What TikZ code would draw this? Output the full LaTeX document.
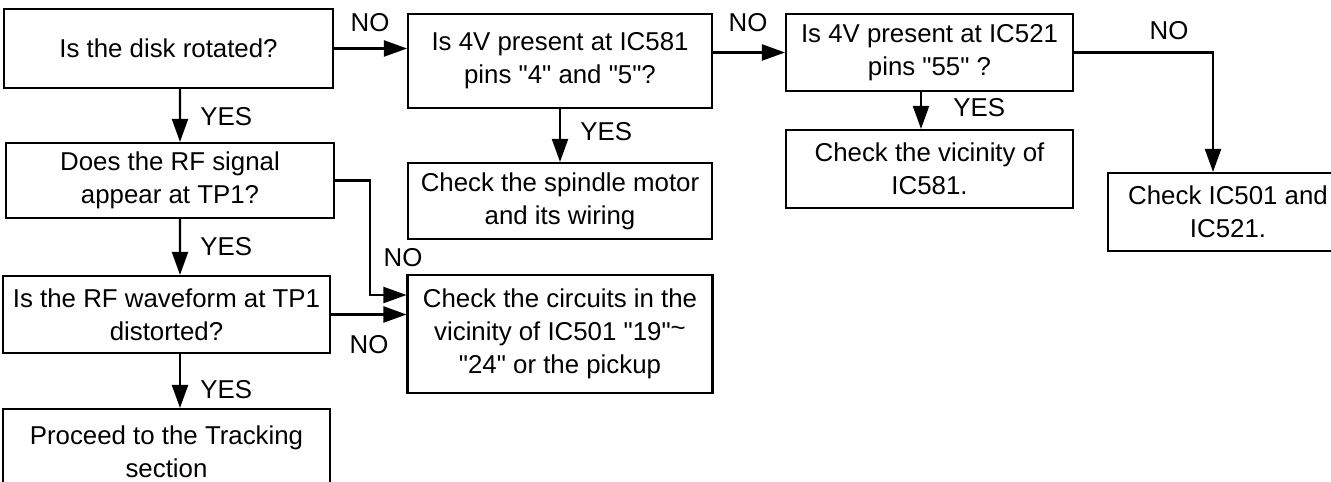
\documentclass[tikz,border=0pt]{standalone}
\usepackage{fontspec}
\setmainfont{Liberation Sans}[Ligatures=TeXOff]
\usetikzlibrary{arrows.meta}

\begin{document}
\begin{tikzpicture}[x=0.02cm,y=-0.02cm,every node/.style={font=\fontsize{14.7pt}{18.8pt}\selectfont},
  box/.style={draw,line width=1.2pt,align=center,inner sep=0pt},
  lbl/.style={inner sep=0pt},
  arr/.style={line width=1.2pt,-{Triangle[length=0.46cm,width=0.32cm]}}]
  \useasboundingbox (0,0) rectangle (1331,482);
  \clip (0,0) rectangle (1331,482);
  % questions and checks
  \node[box,minimum width=6.58cm,minimum height=1.58cm] (disk) at (168.5,48.5) {Is the disk rotated?};
  \node[box,minimum width=6.08cm,minimum height=1.88cm] (ic581q) at (560,61) {Is 4V present at IC581\\pins "4" and "5"?};
  \node[box,minimum width=5.74cm,minimum height=1.54cm] (ic521q) at (929.5,52.5) {Is 4V present at IC521\\pins "55" ?};
  \node[box,minimum width=6.56cm,minimum height=1.5cm] (rfsig) at (170,180.5) {Does the RF signal\\appear at TP1?};
  \node[box,minimum width=6.08cm,minimum height=1.52cm] (spindle) at (560,201) {Check the spindle motor\\and its wiring};
  \node[box,minimum width=5.74cm,minimum height=1.56cm] (vic581) at (929.5,169) {Check the vicinity of\\IC581.};
  \node[box,minimum width=4.8cm,minimum height=1.56cm] (ic501) at (1228,212) {Check IC501 and\\IC521.};
  \node[box,minimum width=6.54cm,minimum height=1.54cm] (rfwave) at (166.5,314.5) {Is the RF waveform at TP1\\distorted?};
  \node[box,minimum width=6.1cm,minimum height=2.36cm] (circuits) at (560,334) {Check the circuits in the\\vicinity of IC501 "19"\raisebox{0.3ex}{\textasciitilde}\\"24" or the pickup};
  \node[box,minimum width=6.54cm,minimum height=1.72cm] (track) at (166.5,452) {Proceed to the Tracking\\section};
  % answers
  \node[lbl,anchor=west] (yes1) at (200,117) {YES};
  \node[lbl,anchor=west] (yes2) at (580,132) {YES};
  \node[lbl,anchor=west] (yes3) at (953,108) {YES};
  \node[lbl,anchor=west] (yes4) at (200,247) {YES};
  \node[lbl,anchor=west] (yes5) at (200,390) {YES};
  \node[lbl] (no1) at (370,23) {NO};
  \node[lbl] (no2) at (748,23) {NO};
  \node[lbl] (no3) at (1169,31) {NO};
  \node[lbl] (no4) at (403,258) {NO};
  \node[lbl] (no5) at (369,345) {NO};
  % flow
  \draw[arr] (disk.east) -- (disk.east -| ic581q.west);
  \draw[arr] (ic581q.east |- ic521q.west) -- (ic521q.west);
  \draw[arr] (ic521q.east) -| ([xshift=-0.3cm]ic501.north);
  \draw[arr] ([xshift=0.23cm]disk.south) -- ([xshift=0.2cm]rfsig.north);
  \draw[arr] (ic581q.south) -- (spindle.north);
  \draw[arr] ([xshift=-0.17cm]ic521q.south) -- ([xshift=-0.17cm]vic581.north);
  \draw[arr] ([xshift=0.2cm]rfsig.south) -- ([xshift=0.27cm]rfwave.north);
  \draw[arr] ([xshift=0.27cm]rfwave.south) -- ([xshift=0.27cm]track.north);
  \draw[arr] (rfsig.east) -- ++(35,0) |- ([yshift=0.78cm]circuits.west);
  \draw[arr] (rfwave.east) -- (rfwave.east -| circuits.west);
\end{tikzpicture}
\end{document}
